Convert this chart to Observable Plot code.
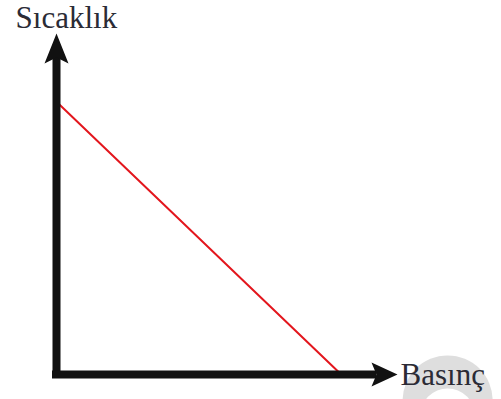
<!DOCTYPE html>
<html>
<head>
<meta charset="utf-8">
<script src="https://cdn.jsdelivr.net/npm/d3@7"></script>
<script src="https://cdn.jsdelivr.net/npm/@observablehq/plot@0.6"></script>
<style>
html,body{margin:0;padding:0;background:#fff;}
</style>
</head>
<body>
<div id="chart"></div>
<script>
// Data
const pressure = [0, 8.35];      // Basınç
const temperature = [8.0, 0];    // Sıcaklık
const xLabel = "Basınç";
const yLabel = "Sıcaklık";

const lineData = pressure.map((p, i) => ({p, t: temperature[i]}));

const upHead = {
  draw(ctx) {
    ctx.moveTo(0, 0);
    ctx.lineTo(12, 30);
    ctx.lineTo(0, 24);
    ctx.lineTo(-12, 30);
    ctx.closePath();
  }
};
const rightHead = {
  draw(ctx) {
    ctx.moveTo(0, 0);
    ctx.lineTo(-26, -12);
    ctx.lineTo(-21, 0);
    ctx.lineTo(-26, 12);
    ctx.closePath();
  }
};

const chart = Plot.plot({
  width: 501,
  height: 399,
  margin: 0,
  style: {background: "#fff", overflow: "visible"},
  x: {domain: [0, 10], range: [56, 397], axis: null},
  y: {domain: [0, 10], range: [374, 33], axis: null},
  marks: [
    // watermark
    Plot.dot([{x: 11.47, y: -0.76}], {x: "x", y: "y", r: 45, fill: "#dedede", stroke: "none"}),
    Plot.dot([{x: 11.47, y: -1.2}], {x: "x", y: "y", r: 27, fill: "#fff", stroke: "none"}),
    // red line
    Plot.line(lineData, {x: "p", y: "t", stroke: "#e3161d", strokeWidth: 2}),
    // axes shafts
    Plot.ruleX([0], {y1: -0.117, y2: 9.3, stroke: "#111", strokeWidth: 8}),
    Plot.ruleY([0], {x1: -0.117, x2: 9.4, stroke: "#111", strokeWidth: 8}),
    // arrow heads
    Plot.dot([{x: 0, y: 10}], {x: "x", y: "y", symbol: upHead, r: 10, fill: "#111", stroke: "none"}),
    Plot.dot([{x: 10, y: 0}], {x: "x", y: "y", symbol: rightHead, r: 10, fill: "#111", stroke: "none"}),
    // labels
    Plot.text([yLabel], {x: -1.2, y: 10.44, text: d => d, textAnchor: "start", fontSize: 31, fontFamily: "Liberation Serif, Times New Roman, serif", fill: "#2b2b35"}),
    Plot.text([xLabel], {x: 10.09, y: -0.03, text: d => d, textAnchor: "start", fontSize: 31, fontFamily: "Liberation Serif, Times New Roman, serif", fill: "#2b2b35"})
  ]
});
document.getElementById("chart").appendChild(chart);
</script>
</body>
</html>
